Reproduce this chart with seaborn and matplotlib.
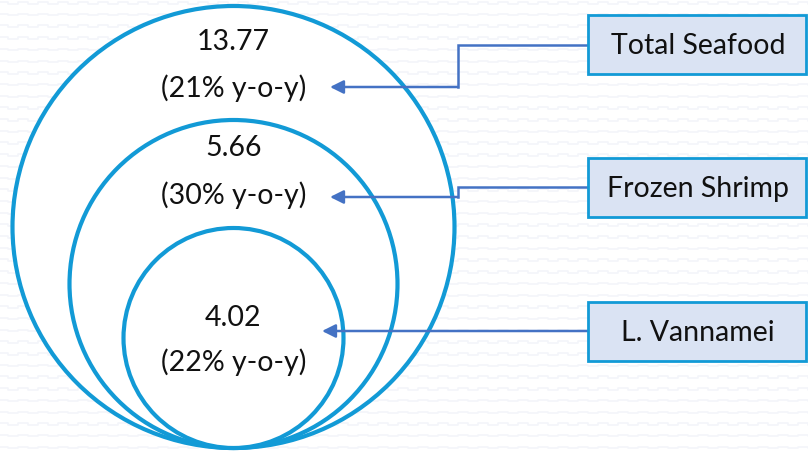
import numpy as np
import matplotlib
matplotlib.use("Agg")
import matplotlib.pyplot as plt
from matplotlib.patches import Circle, Rectangle
import seaborn as sns

# Values shown in each nested circle
categories = ["Total Seafood", "Frozen Shrimp", "L. Vannamei"]
values = [13.77, 5.66, 4.02]
yoy_pct = [21, 30, 22]

sns.set_style("white")
plt.rcParams["font.family"] = ["Lato", "DejaVu Sans"]

W, H = 808, 452
fig = plt.figure(figsize=(W / 100, H / 100), dpi=100)
ax = fig.add_axes([0, 0, 1, 1])
ax.set_xlim(0, W)
ax.set_ylim(H, 0)
ax.axis("off")

ring_blue = "#129ad6"
arrow_blue = "#4472c4"
box_fill = "#dae3f3"

# faint wavy background texture
xs = np.arange(0, W + 10, 5.0)
wave = np.where((xs // 10) % 2 == 0, 0.0, 1.5)
for y0 in np.arange(3, H + 12, 11.7):
    ax.plot(xs, y0 + wave, color="#f3f5fa", lw=1.2, zorder=0, drawstyle="steps-mid")

# nested circles, all touching at the bottom
cx, bottom = 233.5, 449
radii = [221, 164, 110]
for i, r in enumerate(radii):
    ax.add_patch(Circle((cx, bottom - r), r, facecolor="white", edgecolor=ring_blue,
                        lw=3.0, zorder=2 + i))

# value labels inside circles
val_y = [42, 148, 318]
yoy_y = [88, 195, 362]
for v, p, yv, yp in zip(values, yoy_pct, val_y, yoy_y):
    ax.text(cx, yv, f"{v:.2f}", ha="center", va="center", fontsize=20.5, color="#111111", zorder=10)
    ax.text(cx, yp, f"({p}% y-o-y)", ha="center", va="center", fontsize=20.5, color="#111111", zorder=10)

# category boxes on the right
box_x0, box_x1 = 588, 806
box_tops = [16, 159, 303]
box_h = 59
for name, top in zip(categories, box_tops):
    ax.add_patch(Rectangle((box_x0, top), box_x1 - box_x0, box_h, facecolor=box_fill,
                           edgecolor=ring_blue, lw=2.0, zorder=10))
    ax.text((box_x0 + box_x1) / 2 + 1, top + box_h / 2 + 1, name, ha="center", va="center",
            fontsize=20.5, color="#111111", zorder=11)

# connectors from boxes to labels (elbowed where the heights differ)
elbow_x = 458
starts_y = [46, 188, 332]
ends_y = [88, 198, 332]
tips_x = [330, 330, 322]
for sy, ey, tx in zip(starts_y, ends_y, tips_x):
    if sy != ey:
        ax.plot([box_x0, elbow_x, elbow_x], [sy, sy, ey], color=arrow_blue, lw=1.8,
                zorder=9, solid_joinstyle="miter", solid_capstyle="projecting")
        start_x = elbow_x
    else:
        start_x = box_x0
    ax.annotate("", xy=(tx, ey), xytext=(start_x, ey),
                arrowprops=dict(arrowstyle="-|>", color=arrow_blue, lw=1.8,
                                mutation_scale=20, shrinkA=0, shrinkB=0),
                zorder=9)

fig.savefig("out.png", dpi=100)
